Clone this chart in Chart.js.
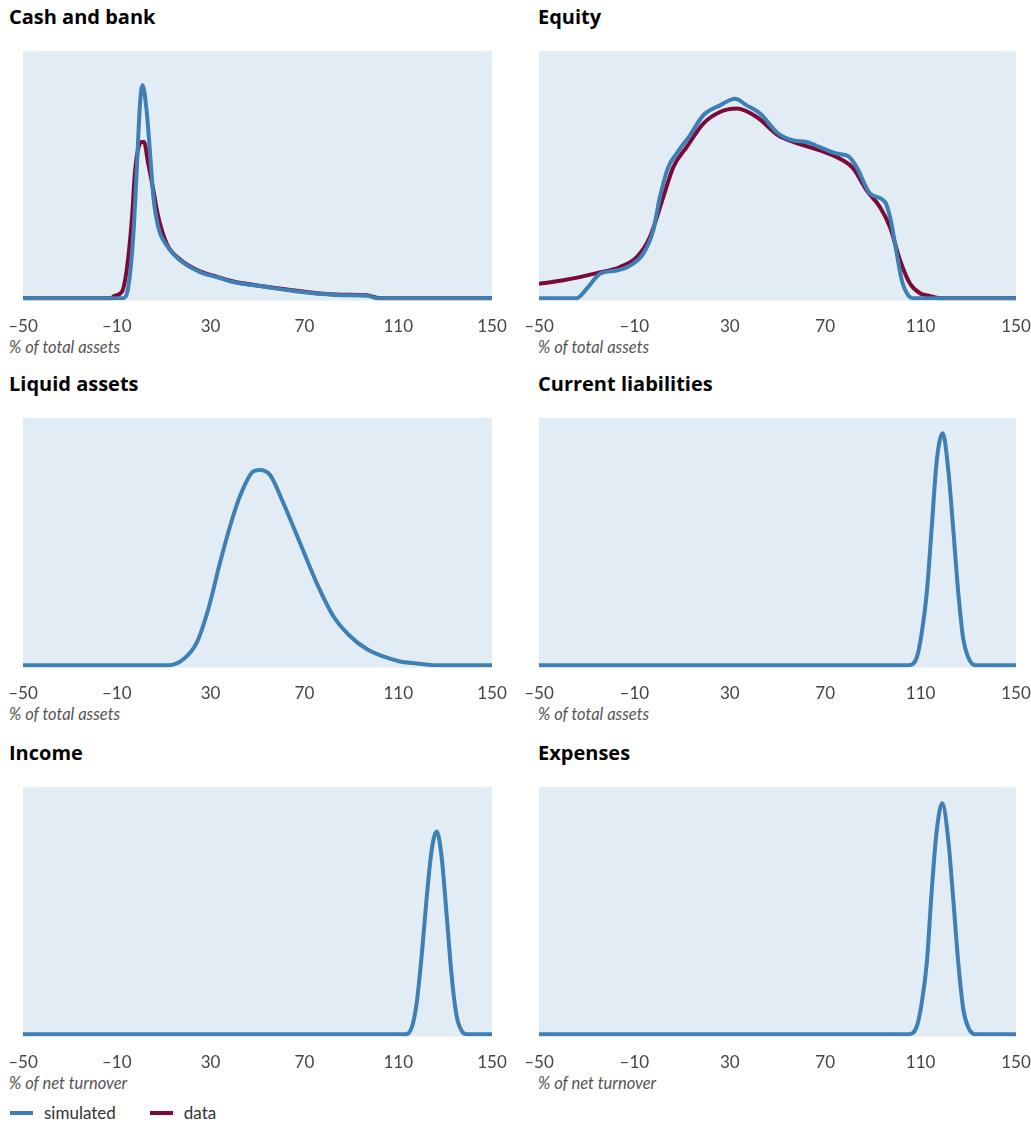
<!DOCTYPE html>
<html>
<head>
<meta charset="utf-8">
<script src="https://cdn.jsdelivr.net/npm/chart.js@4"></script>
<style>
  html, body { margin: 0; padding: 0; background: #ffffff; }
  #wrap { position: relative; width: 1031px; height: 1124px; overflow: hidden; font-family: Lato, "Open Sans", sans-serif; }
  .ptitle { position: absolute; font-family: "Open Sans", Lato, sans-serif; font-weight: 700; font-size: 20px; line-height: 20px; color: #000; white-space: nowrap; }
  .atitle { position: absolute; font-style: italic; font-size: 16.5px; line-height: 16px; color: #555; white-space: nowrap; }
  .cv { position: absolute; }
  .legend { position: absolute; left: 10px; top: 1102px; font-size: 17px; color: #333; display: flex; align-items: center; }
  .legend .sw { display: inline-block; width: 23px; height: 4px; margin-right: 11px; }
  .legend .item { display: flex; align-items: center; margin-right: 34px; }
</style>
</head>
<body>
<div id="wrap"></div>
<script>
// ---- tick values and labels (x axis) ----
const tickValues = [-50, -10, 30, 70, 110, 150];
const tickLabels = ['\u201350', '\u201310', '30', '70', '110', '150'];

// ---- panel titles and axis titles ----
const panelTitles = ['Cash and bank', 'Equity', 'Liquid assets', 'Current liabilities', 'Income', 'Expenses'];
const axisTitles = ['% of total assets', '% of total assets', '% of total assets', '% of total assets', '% of net turnover', '% of net turnover'];
const seriesNames = ['simulated', 'data'];

// ---- Cash and bank ----
const cashSimX = [-50, -7.2, -5.1, -3.0, -1.5, -0.1, 1.0, 2.7, 4.2, 5.6, 7.7, 11.3, 17.0, 25.5, 32.6, 39.7, 53.9, 64, 75.2, 86, 96.6, 101, 150];
const cashSimY = [0, 0, 4.5, 24.7, 51.7, 78.7, 86.1, 76, 58.5, 40.9, 28.7, 21.3, 15.3, 10.5, 8.5, 6.5, 4.5, 3.1, 1.9, 1.2, 1.1, 0, 0];
const cashDataX = [-50, -12, -11.5, -7.9, -5.8, -3.6, -2.2, 0.6, 1.6, 3.4, 5.6, 7.7, 11.3, 17.0, 25.5, 32.6, 39.7, 53.9, 64, 75.2, 86, 96.6, 102, 150];
const cashDataY = [0, 0, 0.7, 2.4, 11.2, 31.5, 51.7, 63.2, 63.2, 54.4, 43.6, 32.8, 22, 15.6, 10.8, 8.7, 6.7, 4.6, 3.3, 2.0, 1.4, 1.2, 0, 0];

// ---- Equity ----
const eqSimX = [-50, -34.2, -30.0, -24.4, -17.4, -11.8, -6.3, -2.1, 0.7, 4.2, 7.7, 13.3, 18.9, 25.9, 32.2, 37.1, 42.7, 50.3, 56.6, 62.2, 67.8, 74.8, 79.7, 83.2, 88.8, 95.1, 97.2, 100.0, 102.1, 104.8, 106.9, 150];
const eqSimY = [0, 0, 3.8, 9.9, 11.2, 13.2, 18, 27.4, 40.9, 53, 58.5, 65.9, 74, 78, 80.7, 78, 74.7, 66.6, 63.8, 63.2, 61.1, 58.5, 57.4, 53, 42.3, 38.9, 32.8, 18, 7.2, 1.1, 0, 0];
const eqDataX = [-50, -39.8, -25.8, -16.0, -9.0, -3.5, 2.1, 6.3, 11.9, 18.9, 25.9, 32.9, 41.3, 50.3, 56.6, 67.8, 76.2, 81.8, 87.4, 93.0, 97.2, 101.4, 105.6, 109.7, 114.0, 118, 150];
const eqDataY = [5.8, 7.2, 10.1, 12.6, 16.6, 24.7, 40.9, 53, 61.1, 70.6, 75.3, 76.7, 73.3, 65.9, 63.2, 59.8, 56.4, 52.4, 43.6, 36.8, 28.7, 15.3, 5.8, 2, 0.8, 0, 0];

// ---- Liquid assets ----
const liqSimX = [-50, 12.0, 18.4, 24.1, 29.0, 34.0, 38.3, 42.5, 48.2, 51.1, 55.3, 61.0, 68.1, 75.2, 82.3, 89.4, 96.6, 103.6, 110.8, 117.9, 125, 150];
const liqSimY = [0, 0, 2.4, 9.1, 22.6, 41.4, 56.2, 68.3, 78.4, 79, 77, 65.6, 49.5, 33.3, 19.9, 11.8, 6.5, 3.5, 1.5, 0.7, 0, 0];

// ---- Current liabilities ----
const clSimX = [-50, 104.9, 108.4, 110.5, 112.6, 114.7, 116.8, 119.3, 121.6, 123.7, 125.8, 127.9, 130.0, 132.8, 150];
const clSimY = [0, 0, 3.1, 13.2, 29.3, 56.2, 83, 93.8, 79, 54.8, 29.3, 10.5, 3.1, 0, 0];

// ---- Income ----
const incSimX = [-50, 112.9, 115.8, 117.9, 120.0, 122.2, 124.3, 126.4, 128.5, 130.7, 132.8, 134.9, 137.1, 139.2, 150];
const incSimY = [0, 0, 2.7, 12.8, 31.6, 55.8, 74.6, 82, 71.9, 47.7, 23.5, 7.4, 1.3, 0, 0];

// ---- Expenses ----
const expSimX = [-50, 104.9, 108.4, 110.5, 112.6, 114.7, 116.8, 119.1, 121.6, 123.7, 125.8, 127.9, 130.0, 132.8, 150];
const expSimY = [0, 0, 3.1, 12.8, 28.9, 58.5, 82.7, 93.4, 78.6, 54.4, 28.9, 10.1, 2.7, 0, 0];

const COLORS = { sim: '#3e80b6', data: '#7c0a38', bg: '#e1ecf5' };

function pts(xs, ys) { return xs.map((x, i) => ({ x: x, y: ys[i] })); }

const panels = [
  { sim: pts(cashSimX, cashSimY), data: pts(cashDataX, cashDataY) },
  { sim: pts(eqSimX, eqSimY), data: pts(eqDataX, eqDataY) },
  { sim: pts(liqSimX, liqSimY) },
  { sim: pts(clSimX, clSimY) },
  { sim: pts(incSimX, incSimY) },
  { sim: pts(expSimX, expSimY) }
];

const plotTops = [51, 418, 787];
const colLeft = [0, 516];
const colWidth = [516, 515];
const areaLeft = [23, 539];
const areaRight = [492, 1016];
const titleLeft = [9, 538];

const bgPlugin = {
  id: 'bgPlugin',
  beforeDatasetsDraw(chart) {
    const a = chart.chartArea, c = chart.ctx;
    c.save();
    c.fillStyle = COLORS.bg;
    c.fillRect(a.left, a.top, a.right - a.left, a.bottom - a.top);
    c.restore();
  }
};

const wrap = document.getElementById('wrap');

panels.forEach((p, i) => {
  const row = Math.floor(i / 2), col = i % 2;
  const top = plotTops[row];

  const t = document.createElement('div');
  t.className = 'ptitle';
  t.style.left = titleLeft[col] + 'px';
  t.style.top = (top - 44) + 'px';
  t.textContent = panelTitles[i];
  wrap.appendChild(t);

  const at = document.createElement('div');
  at.className = 'atitle';
  at.style.left = (titleLeft[col]) + 'px';
  at.style.top = (top + 288) + 'px';
  at.textContent = axisTitles[i];
  wrap.appendChild(at);

  const cw = colWidth[col], ch = 314;
  const holder = document.createElement('div');
  holder.className = 'cv';
  holder.style.left = colLeft[col] + 'px';
  holder.style.top = (top - 10) + 'px';
  holder.style.width = cw + 'px';
  holder.style.height = ch + 'px';
  const cv = document.createElement('canvas');
  holder.appendChild(cv);
  wrap.appendChild(holder);

  const datasets = [];
  if (p.data) {
    datasets.push({ label: seriesNames[1], data: p.data, borderColor: COLORS.data, borderWidth: 4, pointRadius: 0, cubicInterpolationMode: 'monotone', order: 2 });
  }
  datasets.push({ label: seriesNames[0], data: p.sim, borderColor: COLORS.sim, borderWidth: 4, pointRadius: 0, cubicInterpolationMode: 'monotone', order: 1 });

  new Chart(cv, {
    type: 'line',
    data: { datasets: datasets },
    plugins: [bgPlugin],
    options: {
      responsive: true,
      maintainAspectRatio: false,
      animation: false,
      events: [],
      layout: { padding: { left: areaLeft[col] - colLeft[col], right: cw - (areaRight[col] - colLeft[col]), top: 10, bottom: 2 } },
      plugins: { legend: { display: false }, tooltip: { enabled: false } },
      scales: {
        x: {
          type: 'linear', min: -50, max: 150,
          border: { display: false },
          grid: { display: false, drawTicks: false },
          afterBuildTicks(scale) { scale.ticks = tickValues.map(v => ({ value: v })); },
          afterFit(scale) { scale.paddingLeft = 0; scale.paddingRight = 0; },
          ticks: {
            padding: 16, color: '#444', maxRotation: 0, autoSkip: false,
            font: { family: 'Lato', size: 17 },
            callback(value) { const k = tickValues.indexOf(value); return k >= 0 ? tickLabels[k] : ''; }
          }
        },
        y: { display: false, min: -1, max: 100 }
      }
    }
  });
});

// legend
const lg = document.createElement('div');
lg.className = 'legend';
[[seriesNames[0], COLORS.sim], [seriesNames[1], COLORS.data]].forEach(([name, color]) => {
  const it = document.createElement('span'); it.className = 'item';
  const sw = document.createElement('span'); sw.className = 'sw'; sw.style.background = color;
  const tx = document.createElement('span'); tx.textContent = name;
  it.appendChild(sw); it.appendChild(tx); lg.appendChild(it);
});
wrap.appendChild(lg);
</script>
</body>
</html>
